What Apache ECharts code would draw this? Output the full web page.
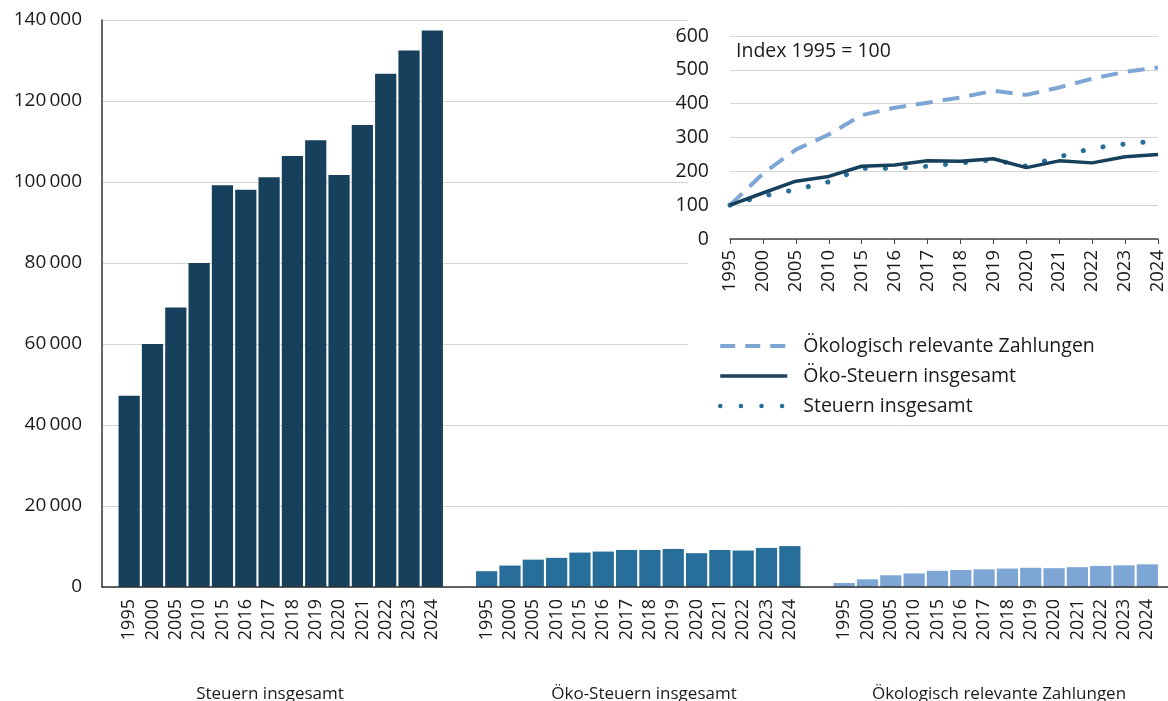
<!DOCTYPE html>
<html>
<head>
<meta charset="utf-8">
<script src="https://cdn.jsdelivr.net/npm/echarts@6/dist/echarts.min.js"></script>
<style>
html,body{margin:0;padding:0;background:#fff;}
#c{width:1168px;height:701px;}
</style>
</head>
<body>
<div id="c"></div>
<script>
// ---------- data ----------
const years = ['1995','2000','2005','2010','2015','2016','2017','2018','2019','2020','2021','2022','2023','2024'];
const groupNames = ['Steuern insgesamt', 'Öko-Steuern insgesamt', 'Ökologisch relevante Zahlungen'];
// Mio. EUR
const steuernInsgesamt = [47200, 60000, 69000, 80000, 99200, 98100, 101200, 106400, 110300, 101700, 114100, 126700, 132500, 137400];
const oekoSteuern      = [3900, 5300, 6750, 7200, 8500, 8750, 9150, 9150, 9400, 8350, 9150, 9000, 9650, 10100];
const oekoZahlungen    = [1000, 1900, 2900, 3350, 4000, 4200, 4350, 4550, 4750, 4650, 4900, 5200, 5350, 5600];
// Index 1995 = 100
const idxZahlungen     = [100, 193, 264, 309, 366, 388, 403, 418, 438, 426, 448, 474, 494, 507];
const idxOekoSteuern   = [100, 136, 171, 185, 215, 219, 231, 230, 237, 211, 231, 225, 243, 250];
const idxSteuern       = [100, 127, 146, 169, 209, 209, 215, 225, 234, 215, 243, 268, 281, 290];
const mainTicks = [0, 20000, 40000, 60000, 80000, 100000, 120000, 140000];
const insetTicks = [0, 100, 200, 300, 400, 500, 600];

// ---------- styles ----------
const FONT = 'Open Sans';
const C1 = '#16405c', C2 = '#286e9b', C3 = '#7ea6d4';
const TXT = '#1a1a1a';
const GRIDC = '#d4d4d4';

const chart = echarts.init(document.getElementById('c'), null, {renderer: 'canvas'});

const groupLefts = [117.5, 475, 832.5];
const groupColors = [C1, C2, C3];
const groupData = [steuernInsgesamt, oekoSteuern, oekoZahlungen];
const groupTitleX = [270, 644, 999];

const grids = [{left: 102, top: 20, width: 1066, height: 567}];
const xAxes = [{
  gridIndex: 0, type: 'category', data: [''], z: 4,
  axisLine: {show: true, lineStyle: {color: '#333', width: 1.5}},
  axisTick: {show: false}, axisLabel: {show: false}
}];
const yAxes = [{
  gridIndex: 0, type: 'value', min: mainTicks[0], max: mainTicks[mainTicks.length-1],
  interval: mainTicks[1] - mainTicks[0], z: 0,
  axisLine: {show: true, lineStyle: {color: '#333', width: 1.5}},
  axisTick: {show: false},
  splitLine: {show: true, lineStyle: {color: GRIDC, width: 1}},
  axisLabel: {
    margin: 20, color: TXT, fontFamily: FONT, fontSize: 19,
    formatter: v => v === 0 ? '0' : (v / 1000) + '\u2009000'
  }
}];
const series = [];

for (let g = 0; g < 3; g++) {
  grids.push({left: groupLefts[g], top: 20, width: 326.5, height: 567});
  xAxes.push({
    gridIndex: g + 1, type: 'category', data: years,
    axisLine: {show: false}, axisTick: {show: false},
    axisLabel: {rotate: 90, margin: 12, color: TXT, fontFamily: FONT, fontSize: 18, interval: 0}
  });
  yAxes.push({
    gridIndex: g + 1, type: 'value', min: mainTicks[0], max: mainTicks[mainTicks.length-1],
    show: false, splitLine: {show: false}
  });
  series.push({
    type: 'bar', xAxisIndex: g + 1, yAxisIndex: g + 1, data: groupData[g],
    barCategoryGap: '9%', z: 2,
    itemStyle: {color: groupColors[g]},
    silent: true, animation: false
  });
}

// inset line chart
grids.push({left: 730, top: 36, width: 428, height: 203});
const insetIdx = grids.length - 1;
xAxes.push({
  gridIndex: insetIdx, type: 'category', data: years, boundaryGap: false, z: 6,
  axisLine: {show: true, lineStyle: {color: '#444', width: 1.5}},
  axisTick: {show: true, inside: false, length: 5, alignWithLabel: true, lineStyle: {color: '#444'}},
  axisLabel: {rotate: 90, margin: 11, color: TXT, fontFamily: FONT, fontSize: 18.5, interval: 0}
});
yAxes.push({
  gridIndex: insetIdx, type: 'value', min: insetTicks[0], max: insetTicks[insetTicks.length-1],
  interval: insetTicks[1] - insetTicks[0], z: 6,
  axisLine: {show: false}, axisTick: {show: false},
  splitLine: {show: true, lineStyle: {color: GRIDC, width: 1}},
  axisLabel: {margin: 21, color: TXT, fontFamily: FONT, fontSize: 19.5}
});
series.push({
  name: groupNames[2], type: 'line', xAxisIndex: insetIdx, yAxisIndex: insetIdx,
  data: idxZahlungen, symbol: 'none', z: 7, smooth: false,
  lineStyle: {color: C3, width: 4, type: [17, 10]}, itemStyle: {color: C3}
});
series.push({
  name: groupNames[1], type: 'line', xAxisIndex: insetIdx, yAxisIndex: insetIdx,
  data: idxOekoSteuern, symbol: 'none', z: 8,
  lineStyle: {color: C1, width: 3.5, type: 'solid'}, itemStyle: {color: C1}
});
series.push({
  name: 'Steuern insgesamt', type: 'line', xAxisIndex: insetIdx, yAxisIndex: insetIdx,
  data: idxSteuern, symbol: 'none', z: 7,
  lineStyle: {color: C2, width: 5, type: [0.1, 20], cap: 'round'}, itemStyle: {color: C2}
});

const graphics = [
  {type: 'rect', z: 3, silent: true, shape: {x: 688, y: 0, width: 480, height: 418}, style: {fill: '#fff'}},
  {type: 'text', z: 9, left: 736, top: 41, style: {text: 'Index 1995 = 100', fill: TXT, font: '19.5px "' + FONT + '"'}}
];
for (let g = 0; g < 3; g++) {
  graphics.push({
    type: 'text', z: 9, silent: true,
    x: groupTitleX[g], y: 694,
    style: {text: groupNames[g], fill: TXT, font: '17px "' + FONT + '"', align: 'center', verticalAlign: 'middle'}
  });
}

chart.setOption({
  animation: false,
  grid: grids,
  xAxis: xAxes,
  yAxis: yAxes,
  series: series,
  legend: {
    orient: 'vertical', left: 713, top: 331, z: 10,
    itemWidth: 67, itemHeight: 14, itemGap: 10,
    itemStyle: {opacity: 0},
    data: [
      {name: groupNames[2], lineStyle: {width: 4, type: [15, 10], color: C3}},
      {name: groupNames[1], lineStyle: {width: 3.5, type: 'solid', color: C1}},
      {name: 'Steuern insgesamt', lineStyle: {width: 4.5, type: [0.1, 20.5], cap: 'round', color: C2}}
    ],
    textStyle: {color: TXT, fontFamily: FONT, fontSize: 19.5, lineHeight: 20, padding: [0, 0, 0, 11]}
  },
  graphic: graphics
});
</script>
</body>
</html>
